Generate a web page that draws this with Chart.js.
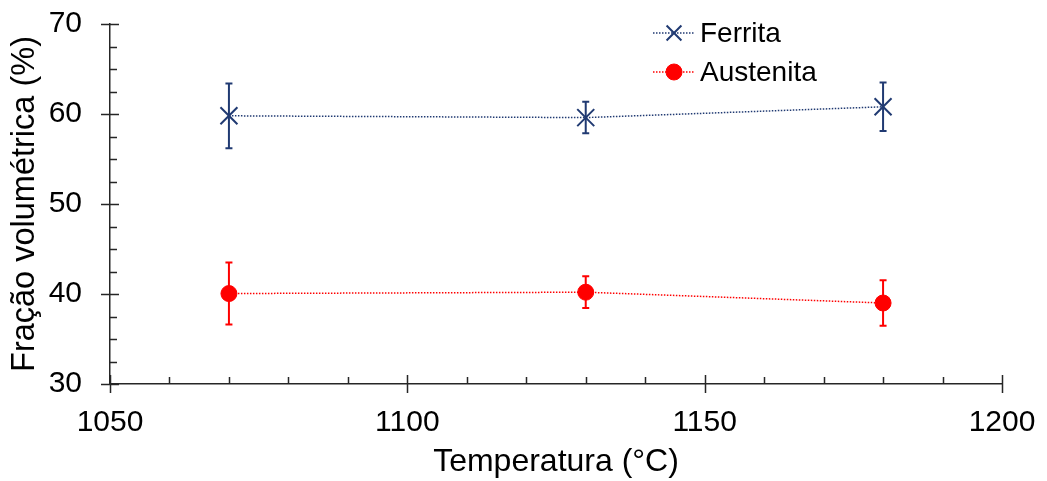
<!DOCTYPE html>
<html>
<head>
<meta charset="utf-8">
<script src="https://cdn.jsdelivr.net/npm/chart.js@4.4.0/dist/chart.umd.min.js"></script>
<style>
  html, body { margin: 0; padding: 0; background: #ffffff; }
  #wrap { width: 1047px; height: 481px; position: relative; }
</style>
</head>
<body>
<div id="wrap"><canvas id="c" width="1047" height="481"></canvas></div>
<script>
// ---- data ----
const temperatures = [1070, 1130, 1180];
const ferrita = [59.8, 59.6, 60.8];
const ferritaErr = [3.6, 1.75, 2.7];
const austenita = [40.05, 40.2, 39.0];
const austenitaErr = [3.44, 1.76, 2.54];
const xTickLabels = [1050, 1100, 1150, 1200];
const yTickLabels = [30, 40, 50, 60, 70];
const xMinorStep = 10;
const yMinorStep = 2.5;
const seriesNames = ['Ferrita', 'Austenita'];

const FONT = "'Liberation Sans', Arial, sans-serif";
const BLUE = '#203A72';
const RED = '#FF0000';
const AXIS = '#262626';

const errorBarsPlugin = {
  id: 'errorBars',
  beforeDatasetsDraw(chart) {
    const ctx = chart.ctx;
    const xs = chart.scales.x, ys = chart.scales.y;
    const errs = [ferritaErr, austenitaErr];
    chart.data.datasets.forEach((ds, i) => {
      ctx.save();
      ctx.strokeStyle = ds.borderColor;
      ctx.lineWidth = 2;
      ds.data.forEach((p, j) => {
        const x = xs.getPixelForValue(p.x);
        const yt = ys.getPixelForValue(p.y + errs[i][j]);
        const yb = ys.getPixelForValue(p.y - errs[i][j]);
        const cap = 3.5;
        ctx.beginPath();
        ctx.moveTo(x, yt); ctx.lineTo(x, yb);
        ctx.moveTo(x - cap, yt); ctx.lineTo(x + cap, yt);
        ctx.moveTo(x - cap, yb); ctx.lineTo(x + cap, yb);
        ctx.stroke();
      });
      ctx.restore();
    });
  }
};

const ticksPlugin = {
  id: 'customTicks',
  afterDraw(chart) {
    const ctx = chart.ctx;
    const xs = chart.scales.x, ys = chart.scales.y;
    const ca = chart.chartArea;
    ctx.save();
    ctx.strokeStyle = AXIS;
    ctx.lineWidth = 1.5;
    ctx.beginPath();
    for (let v = xs.min; v <= xs.max + 1e-9; v += xMinorStep) {
      const x = Math.round(xs.getPixelForValue(v)) + 0.5;
      const major = xTickLabels.includes(Math.round(v));
      ctx.moveTo(x, ca.bottom - (major ? 9 : 7));
      ctx.lineTo(x, ca.bottom + (major ? 9 : 0));
    }
    for (let v = ys.min; v <= ys.max + 1e-9; v += yMinorStep) {
      const y = Math.round(ys.getPixelForValue(v)) + 0.5;
      const major = yTickLabels.includes(v);
      ctx.moveTo(ca.left - (major ? 9 : 0), y);
      ctx.lineTo(ca.left + (major ? 9 : 7), y);
    }
    ctx.stroke();
    ctx.restore();
  }
};

const legendPlugin = {
  id: 'customLegend',
  afterDraw(chart) {
    const ctx = chart.ctx;
    const rows = [33, 72];
    chart.data.datasets.forEach((ds, i) => {
      const y = rows[i];
      ctx.save();
      ctx.strokeStyle = ds.borderColor;
      ctx.lineWidth = 1.5;
      ctx.setLineDash([1.5, 1.5]);
      ctx.beginPath();
      ctx.moveTo(653, y); ctx.lineTo(695, y);
      ctx.stroke();
      ctx.setLineDash([]);
      ctx.fillStyle = ds.pointBackgroundColor;
      ctx.strokeStyle = ds.pointBorderColor;
      ctx.lineWidth = ds.pointBorderWidth;
      Chart.helpers.drawPoint(ctx, {
        pointStyle: ds.pointStyle,
        radius: i === 0 ? 10.5 : 8,
        borderWidth: ds.pointBorderWidth,
        rotation: 0
      }, 674, y);
      ctx.fillStyle = '#000';
      ctx.font = "28px " + FONT;
      ctx.textBaseline = 'middle';
      ctx.textAlign = 'left';
      ctx.fillText(seriesNames[i], 700, y + 1);
      ctx.restore();
    });
  }
};

function zeroPad(scale) {
  scale.paddingTop = 0; scale.paddingBottom = 0;
  scale.paddingLeft = 0; scale.paddingRight = 0;
}

new Chart(document.getElementById('c'), {
  type: 'line',
  data: {
    datasets: [
      {
        label: seriesNames[0],
        data: temperatures.map((t, i) => ({ x: t, y: ferrita[i] })),
        borderColor: BLUE,
        borderWidth: 1.5,
        borderDash: [1.5, 1.5],
        pointStyle: 'crossRot',
        pointRadius: 12,
        pointBorderWidth: 2,
        pointBorderColor: BLUE,
        pointBackgroundColor: BLUE,
        tension: 0,
        fill: false
      },
      {
        label: seriesNames[1],
        data: temperatures.map((t, i) => ({ x: t, y: austenita[i] })),
        borderColor: RED,
        borderWidth: 1.5,
        borderDash: [1.5, 1.5],
        pointStyle: 'circle',
        pointRadius: 8,
        pointBorderWidth: 1,
        pointBorderColor: RED,
        pointBackgroundColor: RED,
        tension: 0,
        fill: false
      }
    ]
  },
  options: {
    responsive: false,
    animation: false,
    devicePixelRatio: 1,
    layout: { padding: { left: 0, top: 24, right: 45, bottom: 0 } },
    plugins: {
      legend: { display: false },
      tooltip: { enabled: false }
    },
    scales: {
      x: {
        type: 'linear',
        min: 1050, max: 1200,
        afterBuildTicks(scale) { scale.ticks = xTickLabels.map(v => ({ value: v })); },
        afterFit(scale) { scale.height = 97; zeroPad(scale); },
        grid: { display: false, drawTicks: false },
        border: { display: true, color: AXIS, width: 1.5 },
        ticks: { color: '#000', font: { family: FONT, size: 30 }, padding: 21, maxRotation: 0, callback: v => String(v) },
        title: { display: true, text: 'Temperatura (°C)', color: '#000', font: { family: FONT, size: 32 }, padding: { top: 0, bottom: 0 } }
      },
      y: {
        type: 'linear',
        min: 30, max: 70,
        afterBuildTicks(scale) { scale.ticks = yTickLabels.map(v => ({ value: v })); },
        afterFit(scale) { scale.width = 110; zeroPad(scale); },
        grid: { display: false, drawTicks: false },
        border: { display: true, color: AXIS, width: 1.5 },
        ticks: { color: '#000', font: { family: FONT, size: 30 }, padding: 28, callback: v => String(v) },
        title: { display: true, text: 'Fração volumétrica (%)', color: '#000', font: { family: FONT, size: 32.5 }, padding: { top: 6, bottom: 0 } }
      }
    }
  },
  plugins: [errorBarsPlugin, ticksPlugin, legendPlugin]
});
</script>
</body>
</html>
